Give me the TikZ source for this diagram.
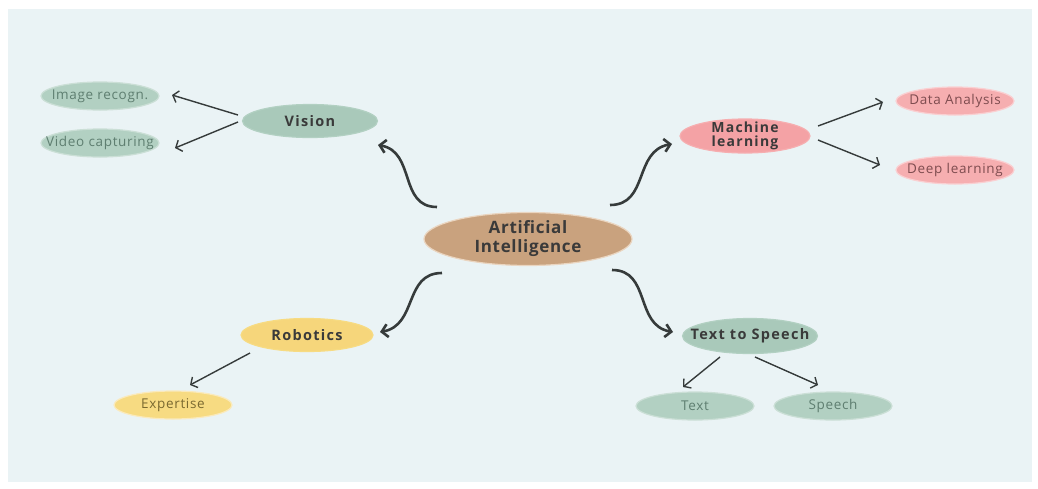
\documentclass[tikz,border=0pt]{standalone}
\usepackage{fontspec}
\setmainfont{Open Sans}
\newfontfamily\brfont[LetterSpace=9]{Open Sans}
\newfontfamily\aifont[LetterSpace=4]{Open Sans}
\newfontfamily\leaffont[LetterSpace=5]{Open Sans}
\usetikzlibrary{shapes.geometric,arrows.meta}
\definecolor{bgc}{HTML}{EAF3F5}
\definecolor{aifill}{HTML}{C9A27E}
\definecolor{aiedge}{HTML}{EAD5C0}
\definecolor{grn}{HTML}{A9C9BA}
\definecolor{grnl}{HTML}{B2D0C2}
\definecolor{pnk}{HTML}{F4A2A5}
\definecolor{pnkl}{HTML}{F6AEB0}
\definecolor{ylw}{HTML}{F6D67B}
\definecolor{ylwl}{HTML}{F7DB82}
\definecolor{txtc}{HTML}{3A3A3A}
\definecolor{grntxt}{HTML}{5E7E70}
\definecolor{pnktxt}{HTML}{7E4C4F}
\definecolor{ylwtxt}{HTML}{7A6930}
\definecolor{arrc}{HTML}{363B3B}
\tikzset{
  x=1pt,y=1pt,
  blob/.style={ellipse,inner sep=-30pt,line width=1.2pt,text=txtc,align=center},
  mainn/.style={blob,font=\brfont\bfseries\fontsize{14.5}{15}\selectfont},
  subn/.style={blob,minimum width=118pt,minimum height=28pt,font=\leaffont\fontsize{13.5}{14}\selectfont},
  thinarr/.style={draw=arrc,line width=1.4pt,-{Straight Barb[length=5pt,width=12pt]}},
  thickarr/.style={draw=arrc,line width=2.6pt,-{Straight Barb[length=6pt,width=13pt]},looseness=1.15},
}
\begin{document}
\begin{tikzpicture}
\useasboundingbox (0,0) rectangle (1038,-488);
\fill[white] (0,0) rectangle (1038,-488);
\fill[bgc] (8,-9) rectangle (1032,-482);

% central node
\node[blob,fill=aifill,draw=aiedge,minimum width=208pt,minimum height=53pt,font=\aifont\bfseries\fontsize{17}{19}\selectfont] (ai) at (528,-239) {Artificial\\Intelligence};

% main branches
\node[mainn,fill=grn,draw=grnl,minimum width=135pt,minimum height=33pt] (vis) at (310,-121) {Vision};
\node[mainn,fill=pnk,draw=pnkl,minimum width=130pt,minimum height=34pt,font=\brfont\bfseries\fontsize{14}{14.5}\selectfont] (ml) at (745,-136) {Machine\\learning};
\node[mainn,fill=ylw,draw=ylwl,minimum width=132pt,minimum height=33pt] (rob) at (307,-335) {Robotics};
\node[mainn,fill=grn,draw=grnl,minimum width=135pt,minimum height=35pt] (tts) at (750,-336) {Text to Speech};

% leaves
\node[subn,fill=grnl,draw=grn!60!white,text=grntxt] (img) at (100,-96) {Image recogn.};
\node[subn,fill=grnl,draw=grn!60!white,text=grntxt] (vid) at (100,-143) {Video capturing};
\node[subn,fill=pnkl,draw=pnk!50!white,text=pnktxt] (da) at (955,-101) {Data Analysis};
\node[subn,fill=pnkl,draw=pnk!50!white,text=pnktxt] (dl) at (955,-170) {Deep learning};
\node[subn,fill=ylwl,draw=ylw!50!white,text=ylwtxt] (exp) at (173,-405) {Expertise};
\node[subn,fill=grnl,draw=grn!60!white,text=grntxt] (txt) at (695,-406) {Text};
\node[subn,fill=grnl,draw=grn!60!white,text=grntxt] (sp) at (833,-406) {Speech};

% thin arrows
\draw[thinarr] ([shift={(-72,6)}]vis.center) -- ([shift={(72,1)}]img.center);
\draw[thinarr] ([shift={(-72,-1)}]vis.center) -- ([shift={(75,-5)}]vid.center);
\draw[thinarr] ([shift={(73,10)}]ml.center) -- ([shift={(-72,-1)}]da.center);
\draw[thinarr] ([shift={(73,-4)}]ml.center) -- ([shift={(-75,5)}]dl.center);
\draw[thinarr] ([shift={(-57,-18)}]rob.center) -- ([shift={(17,20)}]exp.center);
\draw[thinarr] ([shift={(-30,-21)}]tts.center) -- ([shift={(-12,19)}]txt.center);
\draw[thinarr] ([shift={(5,-21)}]tts.center) -- ([shift={(-15,21)}]sp.center);

% thick curved arrows
\draw[thickarr] ([shift={(-91,32)}]ai.center) to[out=180,in=-10] ([shift={(68,-24)}]vis.center);
\draw[thickarr] ([shift={(82,34)}]ai.center) to[out=0,in=190] ([shift={(-73,-8)}]ml.center);
\draw[thickarr] ([shift={(-86,-34)}]ai.center) to[out=180,in=10] ([shift={(73,3)}]rob.center);
\draw[thickarr] ([shift={(84,-31)}]ai.center) to[out=0,in=170] ([shift={(-77,4)}]tts.center);
\end{tikzpicture}
\end{document}
